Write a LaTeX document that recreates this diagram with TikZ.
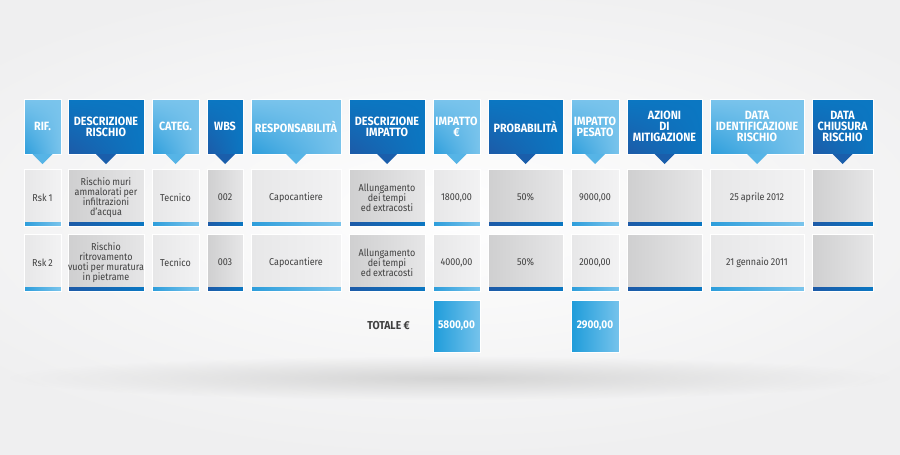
\documentclass[tikz,border=0pt]{standalone}
\usepackage{fontspec}
\setmainfont[FakeStretch=0.9]{Fira Sans}
\usetikzlibrary{positioning,calc,fadings,shadings}

\definecolor{bgcol}{HTML}{EFEFF0}
\definecolor{hdlightc}{HTML}{7AC4EC}
\definecolor{hdlightd}{HTML}{2C9DDB}
\definecolor{hddarkc}{HTML}{0B77C2}
\definecolor{hddarkd}{HTML}{1D5AA7}
\definecolor{trilight}{HTML}{56B4E6}
\definecolor{tridark}{HTML}{1A5EAB}
\definecolor{cl1}{HTML}{E7E7E8}
\definecolor{cl2}{HTML}{F2F2F3}
\definecolor{cd1}{HTML}{CFCFD0}
\definecolor{cd2}{HTML}{E6E6E7}
\definecolor{tot1}{HTML}{1E9CDA}
\definecolor{tot2}{HTML}{76C3EC}
\definecolor{txtcol}{HTML}{404040}

\newcommand{\cellfont}{\fontsize{10}{10}\selectfont\spaceskip=0.2em plus 0.1em\relax}

\tikzfading[name=softfade, inner color=transparent!0, outer color=transparent!100]

\tikzset{
  header/.style={minimum height=55pt, inner sep=0pt, outer sep=0pt, text=white, align=center,
    font=\fontsize{12}{10.8}\selectfont\bfseries, draw=white, line width=0.4pt},
  hdlight/.style={header, minimum width=#1, upper left=hdlightc, upper right=hdlightc,
    lower right=hdlightc, lower left=hdlightd},
  hddark/.style={header, minimum width=#1, upper left=hddarkc, upper right=hddarkc,
    lower right=hddarkc, lower left=hddarkd},
  cell/.style={minimum height=57pt, inner sep=0pt, outer sep=0pt, align=center, text=txtcol,
    font=\cellfont, draw=white, line width=0.4pt},
  cllight/.style={cell, minimum width=#1, left color=cl1, right color=cl2,
    path picture={\shade[left color=hdlightd, right color=hdlightc]
      (path picture bounding box.south west) rectangle ($(path picture bounding box.south east)+(0pt,4pt)$);}},
  cldark/.style={cell, minimum width=#1, left color=cd1, right color=cd2,
    path picture={\shade[left color=hddarkd, right color=hddarkc]
      (path picture bounding box.south west) rectangle ($(path picture bounding box.south east)+(0pt,4pt)$);}},
  total/.style={minimum width=#1, minimum height=52pt, inner sep=0pt, outer sep=0pt, text=white,
    font=\fontsize{11.2}{12}\selectfont\bfseries, left color=tot1, right color=tot2,
    draw=white, line width=0.4pt}
}

\begin{document}
\begin{tikzpicture}[x=1pt,y=-1pt]
  \useasboundingbox (0,0) rectangle (900,455);
  \fill[bgcol] (0,0) rectangle (900,455);
  \fill[white, path fading=softfade] (450,215) ellipse [x radius=620pt, y radius=250pt];
  \fill[black!17, path fading=softfade] (450,378) ellipse [x radius=440pt, y radius=22pt];

  \node[hdlight=37pt, anchor=north west] (h1) at (24,99) {RIF.};
  \node[hddark=76pt]  (h2)  [right=7pt of h1]  {DESCRIZIONE\\RISCHIO};
  \node[hdlight=47pt] (h3)  [right=8pt of h2]  {CATEG.};
  \node[hddark=36pt]  (h4)  [right=8pt of h3]  {WBS};
  \node[hdlight=90pt] (h5)  [right=8pt of h4]  {RESPONSABILITÀ};
  \node[hddark=76pt]  (h6)  [right=8pt of h5]  {DESCRIZIONE\\IMPATTO};
  \node[hdlight=47pt] (h7)  [right=8pt of h6]  {IMPATTO\\€};
  \node[hddark=75pt]  (h8)  [right=8pt of h7]  {PROBABILITÀ};
  \node[hdlight=48pt] (h9)  [right=8pt of h8]  {IMPATTO\\PESATO};
  \node[hddark=75pt]  (h10) [right=8pt of h9]  {AZIONI\\DI\\MITIGAZIONE};
  \node[hdlight=94pt] (h11) [right=8pt of h10] {DATA\\IDENTIFICAZIONE\\RISCHIO};
  \node[hddark=61pt]  (h12) [right=8pt of h11] {DATA\\CHIUSURA\\RISCHIO};

  \foreach \n/\c in {h1/trilight,h2/tridark,h3/trilight,h4/tridark,h5/trilight,h6/tridark,
      h7/trilight,h8/tridark,h9/trilight,h10/tridark,h11/trilight,h12/tridark}
    \fill[\c] ($(\n.south)+(-10pt,0pt)$) -- ($(\n.south)+(10pt,0pt)$) -- ($(\n.south)+(0pt,-10pt)$) -- cycle;

  \node[cllight=37pt] (a1)  [below=15pt of h1]  {Rsk 1};
  \node[cldark=76pt]  (a2)  [below=15pt of h2]  {Rischio muri\\ammalorati per\\infiltrazioni\\d’acqua};
  \node[cllight=47pt] (a3)  [below=15pt of h3]  {Tecnico};
  \node[cldark=36pt]  (a4)  [below=15pt of h4]  {002};
  \node[cllight=90pt] (a5)  [below=15pt of h5]  {Capocantiere};
  \node[cldark=76pt]  (a6)  [below=15pt of h6]  {Allungamento\\dei tempi\\ed extracosti};
  \node[cllight=47pt] (a7)  [below=15pt of h7]  {1800,00};
  \node[cldark=75pt]  (a8)  [below=15pt of h8]  {50\%};
  \node[cllight=48pt] (a9)  [below=15pt of h9]  {9000,00};
  \node[cldark=75pt]  (a10) [below=15pt of h10] {};
  \node[cllight=94pt] (a11) [below=15pt of h11] {25 aprile 2012};
  \node[cldark=61pt]  (a12) [below=15pt of h12] {};

  \node[cllight=37pt] (b1)  [below=8pt of a1]  {Rsk 2};
  \node[cldark=76pt]  (b2)  [below=8pt of a2]  {Rischio\\ritrovamento\\vuoti per muratura\\in pietrame};
  \node[cllight=47pt] (b3)  [below=8pt of a3]  {Tecnico};
  \node[cldark=36pt]  (b4)  [below=8pt of a4]  {003};
  \node[cllight=90pt] (b5)  [below=8pt of a5]  {Capocantiere};
  \node[cldark=76pt]  (b6)  [below=8pt of a6]  {Allungamento\\dei tempi\\ed extracosti};
  \node[cllight=47pt] (b7)  [below=8pt of a7]  {4000,00};
  \node[cldark=75pt]  (b8)  [below=8pt of a8]  {50\%};
  \node[cllight=48pt] (b9)  [below=8pt of a9]  {2000,00};
  \node[cldark=75pt]  (b10) [below=8pt of a10] {};
  \node[cllight=94pt] (b11) [below=8pt of a11] {21 gennaio 2011};
  \node[cldark=61pt]  (b12) [below=8pt of a12] {};

  \node[total=47pt] (t7) [below=9pt of b7] {5800,00};
  \node[total=48pt] (t9) [below=9pt of b9] {2900,00};
  \node[font=\fontsize{11.5}{12}\selectfont\bfseries, text=black!75, inner sep=0pt] (tot) [left=23pt of t7] {TOTALE €};
\end{tikzpicture}
\end{document}
